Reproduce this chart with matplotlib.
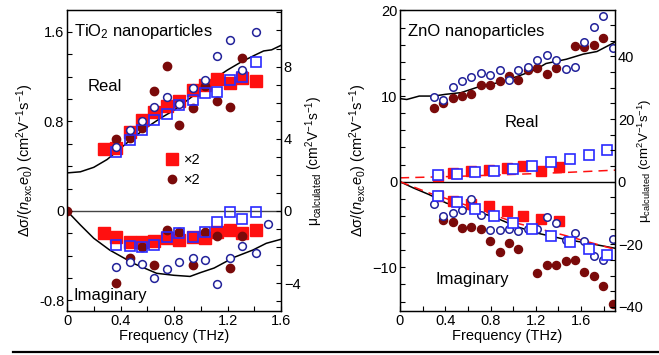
import numpy as np
import matplotlib
matplotlib.use("Agg")
import matplotlib.pyplot as plt
from matplotlib.lines import Line2D
from matplotlib.ticker import MultipleLocator, FuncFormatter

plt.rcParams['font.family'] = ['Liberation Sans', 'DejaVu Sans']
plt.rcParams['mathtext.fontset'] = 'custom'
plt.rcParams['mathtext.rm'] = 'Liberation Sans'
plt.rcParams['mathtext.it'] = 'Liberation Sans:italic'
plt.rcParams['mathtext.bf'] = 'Liberation Sans:bold'

# ---------------- TiO2 panel data ----------------
tio2_f_sq = [0.28, 0.37, 0.47, 0.56, 0.65, 0.75, 0.84, 0.94, 1.03, 1.12, 1.22, 1.31, 1.41]
tio2_red_sq_re = [0.55, 0.56, 0.71, 0.81, 0.88, 0.94, 0.98, 1.08, 1.13, 1.18, 1.14, 1.19, 1.16]
tio2_red_sq_im = [-0.20, -0.23, -0.28, -0.275, -0.27, -0.24, -0.26, -0.23, -0.245, -0.19, -0.17, -0.20, -0.17]

tio2_f_bsq = [0.37, 0.47, 0.56, 0.65, 0.75, 0.84, 0.94, 1.03, 1.12, 1.22, 1.31, 1.41]
tio2_blue_sq_re = [0.53, 0.63, 0.72, 0.81, 0.87, 0.95, 0.99, 1.05, 1.06, 1.17, 1.20, 1.33]
tio2_blue_sq_im = [-0.30, -0.316, -0.325, -0.30, -0.23, -0.20, -0.23, -0.19, -0.10, -0.01, -0.07, -0.01]

tio2_f_dc = [0.37, 0.47, 0.56, 0.65, 0.75, 0.84, 0.94, 1.03, 1.12, 1.22, 1.31]
tio2_dark_re = [0.64, 0.65, 0.74, 1.07, 1.30, 0.77, 0.92, 1.12, 0.98, 0.93, 1.37]
tio2_f_dc_im = [0.0, 0.37, 0.47, 0.56, 0.65, 0.75, 0.84, 0.94, 1.03, 1.12, 1.22, 1.31]
tio2_dark_im = [0.0, -0.64, -0.42, -0.32, -0.48, -0.17, -0.185, -0.48, -0.19, -0.22, -0.51, -0.22]

tio2_f_bc_re = [0.37, 0.47, 0.56, 0.65, 0.75, 0.84, 0.94, 1.03, 1.12, 1.22, 1.31, 1.41]
tio2_bc_re = [0.575, 0.72, 0.80, 0.93, 1.02, 0.96, 1.10, 1.17, 1.385, 1.53, 1.26, 1.60]
tio2_f_bc_im = [0.37, 0.47, 0.56, 0.65, 0.75, 0.84, 0.94, 1.03, 1.12, 1.22, 1.31, 1.41, 1.50]
tio2_bc_im = [-0.50, -0.46, -0.47, -0.60, -0.52, -0.46, -0.42, -0.44, -0.65, -0.42, -0.31, -0.38, -0.12]

tio2_fit_f_re = [0, 0.1, 0.2, 0.3, 0.4, 0.5, 0.6, 0.7, 0.8, 0.9, 1.0, 1.1, 1.2, 1.3, 1.4, 1.47, 1.53, 1.6]
tio2_fit_re = [0.34, 0.35, 0.39, 0.46, 0.56, 0.66, 0.75, 0.83, 0.90, 0.99, 1.08, 1.18, 1.26, 1.33, 1.39, 1.43, 1.44, 1.48]
tio2_fit_f_im = [0, 0.1, 0.2, 0.32, 0.5, 0.67, 0.8, 0.92, 1.0, 1.1, 1.25, 1.39, 1.49, 1.6]
tio2_fit_im = [0, -0.125, -0.244, -0.35, -0.47, -0.557, -0.575, -0.585, -0.55, -0.51, -0.414, -0.349, -0.289, -0.253]

# ---------------- ZnO panel data ----------------
zno_f_c = [0.297, 0.380, 0.464, 0.547, 0.630, 0.714, 0.797, 0.880, 0.963, 1.047,
           1.130, 1.213, 1.297, 1.380, 1.463, 1.547, 1.630, 1.713, 1.797, 1.880]
zno_dark_re = [8.64, 9.14, 9.73, 10.0, 10.2, 11.25, 11.25, 11.76, 12.35, 11.88,
               13.0, 13.25, 12.54, 13.33, np.nan, 15.9, 15.7, 16.0, 16.76, np.nan]
zno_dark_im = [np.nan, -4.45, -4.65, -5.43, -5.31, -5.51, -6.92, -8.17, -7.19, -7.85,
               np.nan, -10.7, -9.73, -9.73, -9.22, -9.14, -10.5, -11.0, -12.19, -14.3]
zno_bc_re = [9.89, 9.53, 11.1, 11.76, 12.27, 12.66, 12.43, 13.05, 11.88, 13.0,
             13.4, 14.19, 14.77, 14.22, 13.13, 13.4, 16.33, 18.1, 19.3, 15.67]
zno_bc_im = [-2.62, -3.95, -3.67, -3.36, -2.03, -3.87, -5.63, -5.63, -5.55, -5.74,
             -5.55, -5.55, -4.07, -4.84, -6.8, -5.94, -6.92, -8.68, -9.14, -6.68]

zno_f_rsq = [0.333, 0.471, 0.627, 0.789, 0.942, 1.09, 1.245, 1.404]
zno_red_sq_re = [0.70, 1.0, 1.21, 1.4, 1.6, 1.88, 1.29, 1.72]
zno_red_sq_im = [-1.72, -2.3, -2.62, -2.89, -3.48, -3.99, -4.38, -4.54]

zno_f_bsq = [0.333, 0.5, 0.667, 0.833, 1.0, 1.167, 1.333, 1.5, 1.667, 1.833]
zno_blue_sq_re = [0.74, 0.94, 1.09, 1.29, 1.52, 1.88, 2.27, 2.66, 3.17, 3.67]
zno_blue_sq_im = [-1.64, -2.38, -3.17, -3.99, -4.77, -5.51, -6.29, -7.07, -7.85, -8.56]

zno_fit_f_re = [0, 0.06, 0.17, 0.3, 0.4, 0.54, 0.7, 0.88, 1.06, 1.2, 1.29, 1.47, 1.62, 1.74, 1.9]
zno_fit_re = [9.7, 9.6, 10.0, 10.0, 10.2, 10.4, 11.1, 11.6, 12.4, 13.1, 13.8, 14.3, 14.9, 15.2, 16.3]
zno_fit_f_im = [0, 0.12, 0.26, 0.41, 0.62, 0.82, 1.03, 1.21, 1.44, 1.67, 1.9]
zno_fit_im = [0, -0.74, -1.52, -2.5, -3.28, -4.07, -5.24, -6.0, -6.68, -7.2, -7.77]
zno_dash_f_re = [0, 0.5, 1.0, 1.5, 1.9]
zno_dash_re = [0.45, 0.62, 0.85, 1.1, 1.35]
zno_dash_f_im = [0, 0.26, 0.62, 1.03, 1.44, 1.9]
zno_dash_im = [0, -1.33, -2.89, -4.84, -6.21, -7.9]

RED = '#ff1010'
DARK = '#7a0a0a'
BSQ = '#2a2aff'
BCI = '#22229a'

ylab_l = r'Δσ/($n_{\mathrm{exc}}e_0$) (cm$^2$V$^{-1}$s$^{-1}$)'
ylab_r = r'μ$_{\mathrm{calculated}}$ (cm$^2$V$^{-1}$s$^{-1}$)'

fig = plt.figure(figsize=(6.59, 3.55), dpi=100)
W, H = 659, 355
axL = fig.add_axes([67 / W, 44 / H, 214 / W, 301 / H])
axR = fig.add_axes([400 / W, 44 / H, 215 / W, 301 / H])

fmt = FuncFormatter(lambda v, p: '0' if abs(v) < 1e-9 else f'{v:.1f}')


def style(ax, twin):
    for a in (ax, twin):
        a.tick_params(which='both', direction='in', length=3.5, width=0.8, labelsize=10.5)
        for s in a.spines.values():
            s.set_linewidth(0.9)
    ax.tick_params(which='both', top=False, right=False, pad=2)
    twin.tick_params(which='both', pad=2)


# ---------- TiO2 ----------
tL = axL.twinx()
axL.axhline(0, color='#444444', lw=1.0, zorder=1)
axL.plot(tio2_fit_f_re, tio2_fit_re, color='black', lw=1.1, zorder=2)
axL.plot(tio2_fit_f_im, tio2_fit_im, color='black', lw=1.1, zorder=2)
sq_ms = 8.0
for f, v in ((tio2_f_sq, tio2_red_sq_re), (tio2_f_sq, tio2_red_sq_im)):
    axL.plot(f, v, 's', ms=sq_ms, color=RED, mec=RED, zorder=3)
for f, v in ((tio2_f_dc, tio2_dark_re), (tio2_f_dc_im, tio2_dark_im)):
    axL.plot(f, v, 'o', ms=6, color=DARK, mec=DARK, zorder=4)
for f, v in ((tio2_f_bsq, tio2_blue_sq_re), (tio2_f_bsq, tio2_blue_sq_im)):
    axL.plot(f, v, 's', ms=7.5, mfc='none', mec=BSQ, mew=1.2, zorder=5)
for f, v in ((tio2_f_bc_re, tio2_bc_re), (tio2_f_bc_im, tio2_bc_im)):
    axL.plot(f, v, 'o', ms=5.6, mfc='white', mec=BCI, mew=1.1, zorder=6)

axL.set_xlim(0, 1.6)
axL.set_ylim(-0.894, 1.796)
tL.set_ylim(-0.894 * 6.2, 1.796 * 6.2)
axL.xaxis.set_major_locator(MultipleLocator(0.4))
axL.xaxis.set_minor_locator(MultipleLocator(0.2))
axL.yaxis.set_major_locator(MultipleLocator(0.8))
axL.yaxis.set_minor_locator(MultipleLocator(0.2))
tL.yaxis.set_major_locator(MultipleLocator(4))
tL.yaxis.set_minor_locator(MultipleLocator(1))
axL.xaxis.set_major_formatter(fmt)
axL.yaxis.set_major_formatter(fmt)
style(axL, tL)
axL.set_xlabel('Frequency (THz)', fontsize=10.5, labelpad=1)
axL.set_ylabel(ylab_l, fontsize=10.5)
axL.yaxis.set_label_coords(-0.145, 0.5)
tL.set_ylabel(ylab_r, fontsize=10)
tL.yaxis.set_label_coords(1.105, 0.5)

axL.text(0.035, 0.93, r'TiO$_2$ nanoparticles', transform=axL.transAxes, fontsize=12, va='center', ha='left')
axL.text(0.175, 0.745, 'Real', transform=axL.transAxes, fontsize=12, va='center', ha='center')
axL.text(0.03, 0.053, 'Imaginary', transform=axL.transAxes, fontsize=12, va='center', ha='left')
handles = [Line2D([], [], ls='none', marker='s', ms=sq_ms, color=RED),
           Line2D([], [], ls='none', marker='o', ms=6, color=DARK)]
axL.legend(handles, ['×2', '×2'], loc='upper left', bbox_to_anchor=(0.43, 0.545), frameon=False,
           handlelength=1.0, handletextpad=0.3, labelspacing=0.45, fontsize=10.5, borderaxespad=0)

# ---------- ZnO ----------
tR = axR.twinx()
axR.axhline(0, color='black', lw=1.0, zorder=1)
axR.plot(zno_fit_f_re, zno_fit_re, color='black', lw=1.1, zorder=2)
axR.plot(zno_fit_f_im, zno_fit_im, color='black', lw=1.1, zorder=2)
axR.plot(zno_dash_f_re, zno_dash_re, color=RED, lw=1.1, ls=(0, (6, 4)), zorder=2)
axR.plot(zno_dash_f_im, zno_dash_im, color=RED, lw=1.1, ls=(0, (6, 4)), zorder=2)
axR.plot(zno_f_rsq, zno_red_sq_re, 's', ms=7.6, color=RED, zorder=3)
axR.plot(zno_f_rsq, zno_red_sq_im, 's', ms=7.6, color=RED, zorder=3)
axR.plot(zno_f_c, zno_dark_re, 'o', ms=5.8, color=DARK, zorder=4)
axR.plot(zno_f_c, zno_dark_im, 'o', ms=5.8, color=DARK, zorder=4)
axR.plot(zno_f_c, zno_bc_re, 'o', ms=5.4, mfc='white', mec=BCI, mew=1.1, zorder=5)
axR.plot(zno_f_c, zno_bc_im, 'o', ms=5.4, mfc='white', mec=BCI, mew=1.1, zorder=5)
axR.plot(zno_f_bsq, zno_blue_sq_re, 's', ms=7.0, mfc='white', mec=BSQ, mew=1.2, zorder=6)
axR.plot(zno_f_bsq, zno_blue_sq_im, 's', ms=7.0, mfc='white', mec=BSQ, mew=1.2, zorder=6)

axR.set_xlim(0, 1.9)
axR.set_ylim(-15.1, 20.05)
tR.set_ylim(-15.1 * 2.735, 20.05 * 2.735)
axR.xaxis.set_major_locator(MultipleLocator(0.4))
axR.xaxis.set_minor_locator(MultipleLocator(0.2))
axR.yaxis.set_major_locator(MultipleLocator(10))
axR.yaxis.set_minor_locator(MultipleLocator(2))
tR.yaxis.set_major_locator(MultipleLocator(20))
tR.yaxis.set_minor_locator(MultipleLocator(5))
axR.xaxis.set_major_formatter(fmt)
style(axR, tR)
axR.set_xlabel('Frequency (THz)', fontsize=10.5, labelpad=1)
axR.set_ylabel(ylab_l, fontsize=10.5)
axR.yaxis.set_label_coords(-0.145, 0.5)
tR.set_ylabel(ylab_r, fontsize=9.5)
tR.yaxis.set_label_coords(1.095, 0.5)

axR.text(0.035, 0.93, 'ZnO nanoparticles', transform=axR.transAxes, fontsize=12, va='center', ha='left')
axR.text(0.567, 0.625, 'Real', transform=axR.transAxes, fontsize=12, va='center', ha='center')
axR.text(0.335, 0.106, 'Imaginary', transform=axR.transAxes, fontsize=12, va='center', ha='center')

fig.add_artist(Line2D([13 / W, 1.0], [3 / H, 3 / H], color='black', lw=1.6, transform=fig.transFigure))

fig.savefig('out.png', dpi=100)
